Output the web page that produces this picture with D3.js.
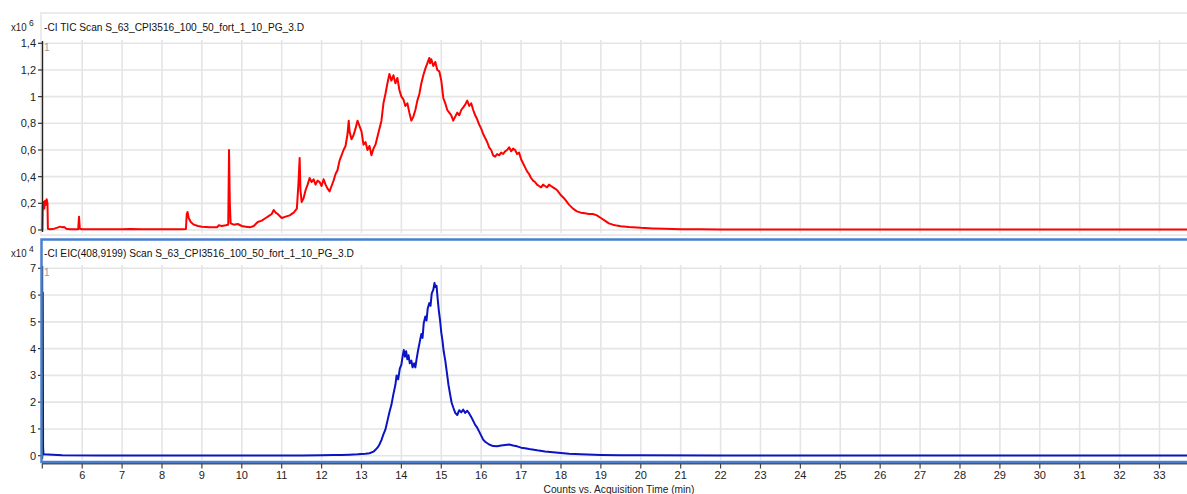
<!DOCTYPE html>
<html>
<head>
<meta charset="utf-8">
<script src="https://cdn.jsdelivr.net/npm/d3@7"></script>
<style>
  html, body { margin: 0; padding: 0; background: #fff; overflow: hidden; }
  svg { display: block; font-family: "Liberation Sans", Arial, sans-serif; }
</style>
</head>
<body>
<svg id="chart" width="1187" height="494"></svg>
<script>
// ---- data: [time (min), counts] ----
// TIC, counts in units of 10^6
const ticPoints = [
  [5.00,0.0],[5.01,0.18],[5.03,0.21],[5.05,0.16],[5.07,0.22],[5.09,0.19],[5.11,0.23],[5.13,0.20],[5.14,0.01],
  [5.2,0.005],[5.3,0.01],[5.4,0.02],[5.45,0.025],[5.5,0.02],[5.55,0.022],[5.6,0.01],[5.7,0.006],[5.9,0.006],
  [5.92,0.1],[5.94,0.01],[6.0,0.006],[6.5,0.005],[7.0,0.006],[7.2,0.007],[7.5,0.005],[8.0,0.005],[8.3,0.005],
  [8.5,0.006],[8.6,0.008],[8.62,0.12],[8.64,0.135],[8.67,0.09],[8.72,0.06],[8.8,0.04],[8.9,0.03],[9.0,0.025],
  [9.2,0.02],[9.38,0.02],[9.42,0.035],[9.5,0.03],[9.6,0.035],[9.66,0.04],[9.68,0.6],[9.7,0.2],[9.72,0.05],
  [9.8,0.04],[9.9,0.045],[10.0,0.03],[10.1,0.025],[10.2,0.02],[10.3,0.03],[10.4,0.06],[10.5,0.07],[10.6,0.09],
  [10.7,0.11],[10.75,0.12],[10.8,0.15],[10.85,0.13],[10.9,0.12],[11.0,0.09],[11.1,0.1],[11.2,0.11],[11.3,0.13],
  [11.38,0.16],[11.42,0.35],[11.45,0.54],[11.47,0.3],[11.5,0.21],[11.55,0.24],[11.6,0.3],[11.65,0.34],[11.7,0.39],
  [11.75,0.36],[11.8,0.38],[11.85,0.34],[11.9,0.37],[11.95,0.36],[12.0,0.33],[12.05,0.38],[12.1,0.34],[12.15,0.31],
  [12.2,0.29],[12.25,0.33],[12.3,0.37],[12.35,0.42],[12.4,0.45],[12.45,0.52],[12.5,0.56],[12.55,0.6],[12.6,0.63],
  [12.65,0.72],[12.68,0.82],[12.7,0.74],[12.75,0.68],[12.8,0.71],[12.85,0.76],[12.9,0.82],[12.95,0.78],[13.0,0.74],
  [13.05,0.64],[13.1,0.66],[13.15,0.6],[13.2,0.63],[13.25,0.56],[13.3,0.61],[13.35,0.64],[13.4,0.7],[13.45,0.76],
  [13.5,0.82],[13.55,0.95],[13.6,1.02],[13.65,1.1],[13.7,1.17],[13.75,1.12],[13.8,1.16],[13.85,1.1],[13.9,1.14],
  [13.95,1.05],[14.0,1.0],[14.05,0.98],[14.1,0.93],[14.15,0.95],[14.2,0.88],[14.25,0.82],[14.3,0.85],[14.35,0.9],
  [14.4,0.97],[14.45,1.02],[14.5,1.1],[14.55,1.16],[14.6,1.21],[14.65,1.25],[14.7,1.29],[14.72,1.25],[14.75,1.28],
  [14.8,1.23],[14.85,1.26],[14.9,1.2],[14.95,1.19],[15.0,1.12],[15.05,0.99],[15.1,0.95],[15.15,0.9],[15.2,0.88],
  [15.25,0.86],[15.3,0.82],[15.35,0.85],[15.4,0.88],[15.45,0.86],[15.5,0.9],[15.55,0.92],[15.6,0.94],[15.65,0.97],
  [15.7,0.93],[15.75,0.95],[15.8,0.9],[15.85,0.86],[15.9,0.83],[15.95,0.79],[16.0,0.76],[16.05,0.72],[16.1,0.69],
  [16.15,0.66],[16.2,0.62],[16.25,0.6],[16.3,0.56],[16.35,0.55],[16.4,0.57],[16.45,0.56],[16.5,0.58],[16.55,0.57],
  [16.6,0.59],[16.65,0.6],[16.7,0.62],[16.75,0.59],[16.8,0.61],[16.85,0.6],[16.9,0.57],[16.95,0.58],[17.0,0.53],
  [17.05,0.5],[17.1,0.47],[17.15,0.44],[17.2,0.42],[17.25,0.39],[17.3,0.37],[17.35,0.36],[17.4,0.34],[17.45,0.33],
  [17.5,0.32],[17.55,0.34],[17.6,0.33],[17.65,0.32],[17.7,0.34],[17.75,0.33],[17.8,0.32],[17.85,0.31],[17.9,0.3],
  [17.95,0.28],[18.0,0.26],[18.1,0.23],[18.2,0.19],[18.3,0.16],[18.4,0.14],[18.5,0.13],[18.6,0.125],[18.7,0.12],
  [18.8,0.12],[18.9,0.11],[19.0,0.09],[19.1,0.07],[19.2,0.05],[19.3,0.04],[19.4,0.033],[19.5,0.028],[19.7,0.022],
  [20.0,0.016],[20.3,0.012],[20.6,0.009],[21.0,0.006],[21.5,0.005],[22.0,0.004],[23,0.003],[25,0.003],[28,0.003],
  [31,0.003],[33.7,0.003]
];

// EIC m/z 408.9199, counts in units of 10^4
const eicPoints = [
  [5.00,0],[5.01,6.1],[5.02,0.3],[5.03,0.05],[5.5,0.02],[6.5,0.01],[8,0.01],[10,0.01],[11.5,0.01],[12.0,0.02],
  [12.3,0.03],[12.5,0.03],[12.7,0.04],[12.9,0.05],[13.0,0.06],[13.1,0.07],[13.2,0.09],[13.3,0.15],[13.35,0.22],
  [13.4,0.3],[13.45,0.42],[13.5,0.58],[13.55,0.8],[13.6,0.98],[13.65,1.3],[13.7,1.62],[13.75,1.9],[13.8,2.3],
  [13.85,2.65],[13.88,3.0],[13.92,2.85],[13.96,3.25],[14.0,3.4],[14.03,3.7],[14.06,3.95],[14.09,3.7],[14.12,3.9],
  [14.15,3.6],[14.18,3.75],[14.21,3.45],[14.25,3.55],[14.28,3.3],[14.32,3.45],[14.35,3.3],[14.38,3.6],[14.42,3.95],
  [14.46,4.25],[14.5,4.55],[14.53,4.4],[14.56,4.95],[14.6,5.2],[14.63,5.05],[14.66,5.5],[14.7,5.7],[14.73,5.6],
  [14.76,6.05],[14.8,6.2],[14.83,6.45],[14.85,6.3],[14.88,6.35],[14.91,5.85],[14.94,5.4],[14.97,5.05],[15.0,4.6],
  [15.03,4.3],[15.06,3.9],[15.1,3.55],[15.14,3.1],[15.18,2.65],[15.22,2.3],[15.26,1.98],[15.3,1.8],[15.35,1.6],
  [15.4,1.52],[15.45,1.7],[15.5,1.62],[15.55,1.72],[15.6,1.6],[15.65,1.68],[15.7,1.58],[15.75,1.45],[15.8,1.3],
  [15.85,1.15],[15.9,1.05],[15.95,0.9],[16.0,0.75],[16.05,0.6],[16.1,0.52],[16.2,0.42],[16.3,0.36],[16.4,0.35],
  [16.5,0.38],[16.6,0.4],[16.7,0.42],[16.8,0.38],[16.9,0.35],[17.0,0.3],[17.1,0.28],[17.2,0.25],[17.4,0.2],
  [17.6,0.16],[17.8,0.13],[18.0,0.1],[18.2,0.07],[18.5,0.05],[19.0,0.03],[19.5,0.02],[20,0.015],[22,0.01],
  [25,0.01],[30,0.01],[33.7,0.01]
];

const timeTicks = [5,6,7,8,9,10,11,12,13,14,15,16,17,18,19,20,21,22,23,24,25,26,27,28,29,30,31,32,33];
const ticTicks = [0,0.2,0.4,0.6,0.8,1,1.2,1.4];
const eicTicks = [0,1,2,3,4,5,6,7];

const ticTitle = "-CI TIC Scan S_63_CPI3516_100_50_fort_1_10_PG_3.D";
const eicTitle = "-CI EIC(408,9199) Scan S_63_CPI3516_100_50_fort_1_10_PG_3.D";
const xTitle = "Counts vs. Acquisition Time (min)";

// ---- layout ----
const W = 1187;
const svg = d3.select("#chart");
const x = d3.scaleLinear().domain([5, 33.69]).range([42.3, W]);
const yTic = d3.scaleLinear().domain([0, 1.4]).range([230, 43.3]);
const yEic = d3.scaleLinear().domain([0, 7]).range([455.7, 268.3]);
const comma = d => String(d).replace(".", ",");

const gridColor = "#e5e5e5";

function narrowText(sel, ratio) {
  sel.each(function () {
    const len = this.getComputedTextLength();
    d3.select(this).attr("textLength", len * ratio).attr("lengthAdjust", "spacingAndGlyphs");
  });
}

function panel(cfg) {
  const g = svg.append("g");
  // grid
  g.selectAll("line.vg").data(timeTicks.filter(t => t > 5)).join("line")
    .attr("x1", d => x(d)).attr("x2", d => x(d))
    .attr("y1", cfg.gridTop).attr("y2", cfg.gridBottom)
    .attr("stroke", gridColor).attr("stroke-width", 1.6);
  g.selectAll("line.hg").data(cfg.ticks).join("line")
    .attr("x1", 43).attr("x2", W)
    .attr("y1", d => cfg.y(d)).attr("y2", d => cfg.y(d))
    .attr("stroke", gridColor).attr("stroke-width", 1.6);

  // trace
  const line = d3.line().x(d => x(d[0])).y(d => cfg.y(d[1]));
  g.append("path").datum(cfg.data)
    .attr("d", line).attr("fill", "none")
    .attr("stroke", cfg.color).attr("stroke-width", 2)
    .attr("stroke-linejoin", "round");

  // y axis
  g.append("line").attr("x1", 42.5).attr("x2", 42.5)
    .attr("y1", cfg.gridTop + 1).attr("y2", cfg.gridBottom - 1)
    .attr("stroke", "#222").attr("stroke-width", 1.4);
  g.selectAll("line.yt").data(cfg.ticks).join("line")
    .attr("x1", 38).attr("x2", 42.5)
    .attr("y1", d => cfg.y(d)).attr("y2", d => cfg.y(d))
    .attr("stroke", "#333").attr("stroke-width", 1.2);
  g.selectAll("text.yl").data(cfg.ticks).join("text")
    .attr("x", 36).attr("y", d => cfg.y(d))
    .attr("dy", "0.36em").attr("text-anchor", "end")
    .attr("font-size", 11).attr("fill", "#222")
    .text(d => comma(d));

  // exponent and title
  const ex = g.append("text").attr("x", 11).attr("y", cfg.titleY)
    .attr("font-size", 11).attr("fill", "#222").text("x10");
  narrowText(ex, 0.88);
  g.append("text").attr("x", 29).attr("y", cfg.titleY - 5)
    .attr("font-size", 8.5).attr("fill", "#222").text(cfg.exponent);
  const t = g.append("text").attr("x", 44).attr("y", cfg.titleY)
    .attr("font-size", 11).attr("fill", "#111").text(cfg.title);
  narrowText(t, 0.923);
  g.append("text").attr("x", 44).attr("y", cfg.y(cfg.ticks[cfg.ticks.length - 1]) + 8)
    .attr("font-size", 10).attr("fill", "#9a9a9a").text("1");
  return g;
}

// upper panel frame
svg.append("rect").attr("x", 41).attr("y", 13).attr("width", 1160).attr("height", 222)
  .attr("fill", "none").attr("stroke", "#ebebeb").attr("stroke-width", 2);

panel({ data: ticPoints, y: yTic, ticks: ticTicks, color: "#ff0000",
        gridTop: 40, gridBottom: 233, titleY: 31, exponent: "6", title: ticTitle });

panel({ data: eicPoints, y: yEic, ticks: eicTicks, color: "#0a14c4",
        gridTop: 265, gridBottom: 460, titleY: 257, exponent: "4", title: eicTitle });

// selected (lower) panel frame
svg.append("rect").attr("x", 41.5).attr("y", 239.5).attr("width", 1160).attr("height", 222.5)
  .attr("fill", "none").attr("stroke", "#4a7fd0").attr("stroke-width", 2.5);

// time axis
const xa = svg.append("g");
xa.append("line").attr("x1", 42).attr("x2", W).attr("y1", 463.8).attr("y2", 463.8)
  .attr("stroke", "#555").attr("stroke-width", 1.5);
xa.selectAll("line.xt").data(timeTicks).join("line")
  .attr("x1", d => x(d)).attr("x2", d => x(d))
  .attr("y1", 463.8).attr("y2", 468.5)
  .attr("stroke", "#444").attr("stroke-width", 1.2);
xa.selectAll("text.xl").data(timeTicks.filter(t => t > 5)).join("text")
  .attr("x", d => x(d)).attr("y", 479)
  .attr("text-anchor", "middle").attr("font-size", 11).attr("fill", "#222")
  .text(d => d);
const xt = xa.append("text").attr("x", 619).attr("y", 493)
  .attr("text-anchor", "middle").attr("font-size", 11).attr("fill", "#222")
  .text(xTitle);
narrowText(xt, 0.928);
</script>
</body>
</html>
